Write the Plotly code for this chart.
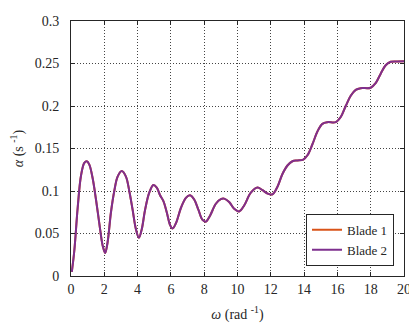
import plotly.graph_objects as go

omega = [0.05, 0.2, 0.4, 0.6, 0.8, 0.95, 1.1, 1.3, 1.5, 1.7, 1.9, 2.05, 2.2, 2.4, 2.6, 2.8, 3.05,
         3.3, 3.5, 3.7, 3.9, 4.08, 4.25, 4.45, 4.7, 4.95, 5.15, 5.35, 5.55, 5.75, 5.95, 6.1,
         6.3, 6.6, 6.9, 7.15, 7.4, 7.65, 7.9, 8.1, 8.35, 8.7, 9.0, 9.2, 9.5, 9.8, 10.1, 10.4,
         10.8, 11.2, 11.5, 11.8, 12.1, 12.4, 12.7, 13.0, 13.3, 13.6, 13.95, 14.2, 14.5, 14.8,
         15.1, 15.4, 15.9, 16.2, 16.5, 16.8, 17.1, 17.4, 18.0, 18.3, 18.6, 18.9, 19.2, 19.6, 20.0]
alpha = [0.005, 0.03, 0.08, 0.118, 0.133, 0.135, 0.131, 0.115, 0.09, 0.062, 0.036, 0.027, 0.04,
         0.075, 0.1, 0.117, 0.1235, 0.117, 0.1, 0.078, 0.055, 0.045, 0.055, 0.078, 0.098, 0.107,
         0.104, 0.095, 0.088, 0.075, 0.06, 0.056, 0.062, 0.08, 0.092, 0.095, 0.09, 0.078, 0.066,
         0.064, 0.071, 0.085, 0.0905, 0.091, 0.087, 0.079, 0.076, 0.083, 0.098, 0.104, 0.101,
         0.097, 0.096, 0.105, 0.12, 0.13, 0.135, 0.136, 0.137, 0.142, 0.155, 0.17, 0.179, 0.181,
         0.181, 0.187, 0.2, 0.212, 0.219, 0.221, 0.2215, 0.227, 0.238, 0.248, 0.252, 0.2525, 0.2527]
blade1_alpha = alpha
blade2_alpha = alpha

x_ticks = [0, 2, 4, 6, 8, 10, 12, 14, 16, 18, 20]
y_ticks = [0, 0.05, 0.1, 0.15, 0.2, 0.25, 0.3]
y_labels = ["0", "0.05", "0.1", "0.15", "0.2", "0.25", "0.3"]

fig = go.Figure()
fig.add_trace(go.Scatter(x=omega, y=blade1_alpha, mode="lines", name="Blade 1",
                         line=dict(color="#D95319", width=2, shape="spline", smoothing=1.0)))
fig.add_trace(go.Scatter(x=omega, y=blade2_alpha, mode="lines", name="Blade 2",
                         line=dict(color="#7E2F8E", width=2, shape="spline", smoothing=1.0)))

axis_common = dict(showline=True, linecolor="#262626", linewidth=1, mirror="ticks",
                   ticks="inside", ticklen=4, tickcolor="#262626",
                   showgrid=True, gridcolor="#444444", griddash="1px,2px", gridwidth=1,
                   zeroline=False, tickfont=dict(size=14, color="#262626"),
                   ticklabeloverflow="allow")

fig.update_layout(
    width=409, height=318,
    margin=dict(l=63, r=6, t=10, b=48),
    paper_bgcolor="white", plot_bgcolor="white",
    font=dict(family="Liberation Serif, Times New Roman, serif", color="#262626"),
    showlegend=True,
    legend=dict(x=0.97, y=0.04, xanchor="right", yanchor="bottom",
                bgcolor="white", bordercolor="#262626", borderwidth=1,
                font=dict(size=13), tracegroupgap=0, itemwidth=30),
    xaxis=dict(range=[0, 20], tickvals=x_ticks, ticktext=[str(v) for v in x_ticks],
               title=dict(text="<i>ω</i> (rad <sup>-1</sup>)", font=dict(size=14), standoff=13),
               **axis_common),
    yaxis=dict(range=[0, 0.3], tickvals=y_ticks, ticktext=y_labels, ticklabelstandoff=8,
               title=dict(text="<i>α</i> (s <sup>-1</sup>)", font=dict(size=14), standoff=8),
               **axis_common),
)

fig.write_html("out.html")
